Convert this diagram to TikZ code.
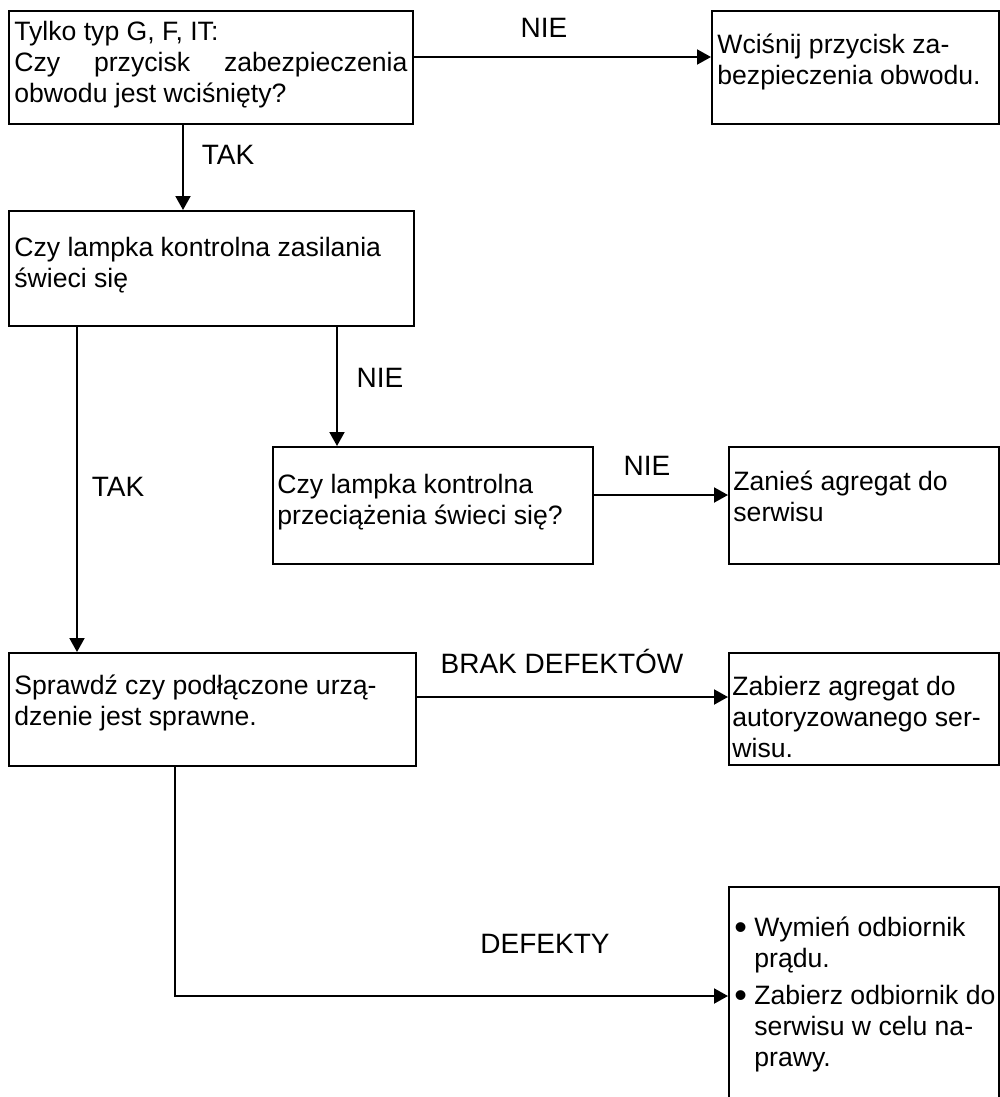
\documentclass[tikz,border=0pt]{standalone}
\usepackage{fontspec}
\setmainfont{Liberation Sans}
\usetikzlibrary{arrows.meta,positioning,fit}
\newcommand{\bul}{\makebox[10pt][l]{\raisebox{-1.6pt}{\fontsize{18pt}{15pt}\selectfont\textbullet}}}

\begin{document}
\begin{tikzpicture}[x=0.5pt, y=-0.5pt,
      box/.style={draw, line width=1pt, inner sep=0pt},
      txt/.style={anchor=north west, inner sep=0pt, align=left,
          font=\fontsize{13.3pt}{15.5pt}\selectfont},
      lbl/.style={inner sep=0pt, font=\fontsize{14pt}{16pt}\selectfont},
      arr/.style={line width=1pt, -{Triangle[length=7pt, width=7.5pt]}}]

      \clip (0,0) rectangle (1000,1097);

      % boxes
      \node[box, fit={(9,11) (413,124)}] (q1) {};
      \node[box, fit={(712,11) (999,124)}] (q2) {};
      \node[box, fit={(9,211) (414,326)}] (q3) {};
      \node[box, fit={(273,447) (593,564)}] (q4) {};
      \node[box, fit={(729,447) (999,564)}] (q5) {};
      \node[box, fit={(9,653) (416,766)}] (q6) {};
      \node[box, fit={(729,653) (999,765)}] (q7) {};
      \node[box, fit={(729,887) (999,1105)}] (q8) {};

      % texts in the boxes
      \node[txt] (t1) at ([shift={(6,11)}]q1.north west)
          {Tylko typ G, F, IT:\\
           \makebox[196.5pt][s]{Czy przycisk zabezpieczenia}\\
           obwodu jest wciśnięty?};
      \node[txt] (t2) at ([shift={(6,24)}]q2.north west)
          {Wciśnij przycisk za-\\bezpieczenia obwodu.};
      \node[txt] (t3) at ([shift={(6,27)}]q3.north west)
          {Czy lampka kontrolna zasilania\\świeci się};
      \node[txt] (t4) at ([shift={(5,28)}]q4.north west)
          {Czy lampka kontrolna\\przeciążenia świeci się?};
      \node[txt] (t5) at ([shift={(5,25)}]q5.north west)
          {Zanieś agregat do\\serwisu};
      \node[txt] (t6) at ([shift={(6,23)}]q6.north west)
          {Sprawdź czy podłączone urzą-\\dzenie jest sprawne.};
      \node[txt] (t7) at ([shift={(4,24)}]q7.north west)
          {Zabierz agregat do\\autoryzowanego ser-\\wisu.};
      \node[txt] (t8) at ([shift={(6,30)}]q8.north west)
          {\bul Wymień odbiornik\\
           \hspace*{10pt}prądu.\\[3pt]
           \bul Zabierz odbiornik do\\
           \hspace*{10pt}serwisu w celu na-\\
           \hspace*{10pt}prawy.};

      % connectors
      \draw[arr] ([yshift=5.25pt]q1.east) coordinate (c1) -- (c1 -| q2.west);
      \draw[arr] ([xshift=87.5pt]q1.south west) coordinate (c2) -- (c2 |- q3.north);
      \draw[arr] ([xshift=34.5pt]q3.south west) coordinate (c3) -- (c3 |- q6.north);
      \draw[arr] ([xshift=164.5pt]q3.south west) coordinate (c4) -- (c4 |- q4.north);
      \draw[arr] ([yshift=5.25pt]q4.east) coordinate (c5) -- (c5 -| q5.west);
      \draw[arr] ([yshift=6.25pt]q6.east) coordinate (c6) -- (c6 -| q7.west);
      \draw[arr] ([xshift=83.5pt]q6.south west) coordinate (c7) |- (q8.west);

      % answers
      \node[lbl] (nie1) at (544,28) {NIE};
      \node[lbl] (tak1) at (228,155) {TAK};
      \node[lbl] (nie2) at (380,378) {NIE};
      \node[lbl] (tak2) at (118,487) {TAK};
      \node[lbl] (nie3) at (647,466) {NIE};
      \node[lbl] (brak) at (562,661) {BRAK DEFEKTÓW};
      \node[lbl] (def) at (545,944) {DEFEKTY};
\end{tikzpicture}
\end{document}
